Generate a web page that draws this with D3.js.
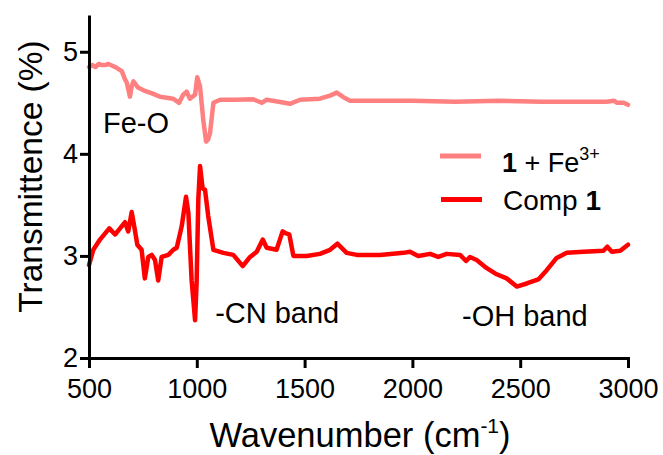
<!DOCTYPE html>
<html><head><meta charset="utf-8">
<script src="https://cdn.jsdelivr.net/npm/d3@7"></script>
<style>
html,body{margin:0;padding:0;background:#fff;}
text{font-family:"Liberation Sans",Arial,sans-serif;fill:#000;}
</style></head>
<body>
<svg id="chart" width="663" height="455"></svg>
<script>
// ---- data ----
const feWavenumber = [500,515,530,545,560,575,590,611,630,652,667,675,690,698,706,727,755,783,829,860,890,918,937,953,968,992,1002,1015,1030,1043,1052,1061,1077,1108,1180,1261,1301,1324,1380,1432,1479,1571,1618,1649,1680,1711,1850,2000,2200,2400,2600,2800,2900,2935,2950,2980,3000];
const feTransmittance = [4.85,4.87,4.85,4.88,4.87,4.87,4.88,4.86,4.84,4.81,4.73,4.70,4.56,4.66,4.71,4.65,4.62,4.60,4.56,4.55,4.54,4.50,4.58,4.61,4.54,4.58,4.75,4.66,4.33,4.12,4.14,4.20,4.50,4.53,4.53,4.535,4.50,4.53,4.51,4.49,4.53,4.54,4.57,4.60,4.555,4.52,4.52,4.52,4.51,4.52,4.51,4.51,4.51,4.52,4.50,4.50,4.48];

const compWavenumber = [500,520,551,594,621,644,667,682,698,713,724,744,759,775,791,806,821,837,868,891,907,930,950,961,976,992,999,1007,1015,1027,1038,1053,1077,1123,1169,1213,1247,1278,1306,1324,1370,1398,1414,1429,1448,1510,1571,1618,1652,1695,1742,1850,1958,1989,2027,2082,2120,2159,2221,2249,2267,2298,2345,2391,2437,2484,2530,2584,2623,2669,2716,2793,2886,2904,2925,2964,3000];
const compTransmittance = [2.91,3.06,3.16,3.27,3.21,3.27,3.33,3.24,3.43,3.25,3.11,3.06,2.78,2.99,3.01,2.96,2.76,2.99,3.01,3.06,3.08,3.29,3.58,3.42,2.76,2.37,2.73,3.55,3.88,3.66,3.65,3.39,3.06,3.03,3.01,2.90,2.99,3.04,3.16,3.08,3.06,3.24,3.22,3.21,3.00,3.00,3.02,3.06,3.12,3.03,3.01,3.01,3.03,3.04,3.00,3.02,2.99,3.02,3.01,2.95,2.99,2.96,2.88,2.82,2.78,2.70,2.73,2.77,2.86,2.98,3.03,3.04,3.05,3.09,3.04,3.05,3.11];

const xTicks = [500,1000,1500,2000,2500,3000];
const yTicks = [2,3,4,5];
const seriesNames = ["1 + Fe3+","Comp 1"];
const seriesColors = ["#ff8080","#ff0000"];
const annotations = [
  {text:"Fe-O", w:565, v:4.2},
  {text:"-CN band", w:1085, v:2.34},
  {text:"-OH band", w:2230, v:2.31}
];

// ---- layout ----
const svg = d3.select("#chart");
const x = d3.scaleLinear().domain([500,3000]).range([89,628]);
const y = d3.scaleLinear().domain([2,5.36]).range([358,15]);

const line = d3.line().x(d=>x(d[0])).y(d=>y(d[1]));

const feData = feWavenumber.map((w,i)=>[w,feTransmittance[i]]);
const compData = compWavenumber.map((w,i)=>[w,compTransmittance[i]]);

svg.append("path").datum(feData).attr("d",line)
  .attr("fill","none").attr("stroke",seriesColors[0]).attr("stroke-width",4.5)
  .attr("stroke-linejoin","round").attr("stroke-linecap","round");
svg.append("path").datum(compData).attr("d",line)
  .attr("fill","none").attr("stroke",seriesColors[1]).attr("stroke-width",4.5)
  .attr("stroke-linejoin","round").attr("stroke-linecap","round");

// axes
const xAxis = svg.append("g").attr("transform","translate(0,358)")
  .call(d3.axisBottom(x).tickValues(xTicks).tickSize(10).tickSizeOuter(0).tickPadding(11).tickFormat(d3.format("d")));
const yAxis = svg.append("g").attr("transform","translate(89,0)")
  .call(d3.axisLeft(y).tickValues(yTicks).tickSize(9).tickSizeOuter(0).tickPadding(2).tickFormat(d3.format("d")));
[xAxis,yAxis].forEach(g=>{
  g.selectAll("path,line").attr("stroke","#000").attr("stroke-width",3);
  g.selectAll("text").attr("font-size",27).attr("font-family","Liberation Sans, Arial, sans-serif").attr("fill","#000");
});
xAxis.select(".domain").attr("stroke-linecap","square");
yAxis.select(".domain").attr("stroke-linecap","butt");

// axis titles
const xt = svg.append("text").attr("x",360).attr("y",447).attr("text-anchor","middle").attr("font-size",34.5);
xt.append("tspan").text("Wavenumber (cm");
xt.append("tspan").attr("dy",-14).attr("font-size",21).text("-1");
xt.append("tspan").attr("dy",14).text(")");

svg.append("text").attr("transform","translate(42,176.5) rotate(-90)")
  .attr("text-anchor","middle").attr("font-size",33.5).text("Transmittence (%)");

// annotations
annotations.forEach(a=>{
  svg.append("text").attr("x",x(a.w)).attr("y",y(a.v)).attr("font-size",29).text(a.text);
});

// legend
const lg = svg.append("g");
lg.append("line").attr("x1",440).attr("x2",481).attr("y1",156).attr("y2",156)
  .attr("stroke",seriesColors[0]).attr("stroke-width",5);
lg.append("line").attr("x1",441).attr("x2",482).attr("y1",199.5).attr("y2",199.5)
  .attr("stroke",seriesColors[1]).attr("stroke-width",5);
const t1 = lg.append("text").attr("x",502).attr("y",172).attr("font-size",27);
t1.append("tspan").attr("font-weight","bold").text("1");
t1.append("tspan").text(" + Fe");
t1.append("tspan").attr("dy",-12).attr("font-size",18).text("3+");
const t2 = lg.append("text").attr("x",503).attr("y",210).attr("font-size",28);
t2.append("tspan").text("Comp ");
t2.append("tspan").attr("font-weight","bold").text("1");
</script>
</body></html>
